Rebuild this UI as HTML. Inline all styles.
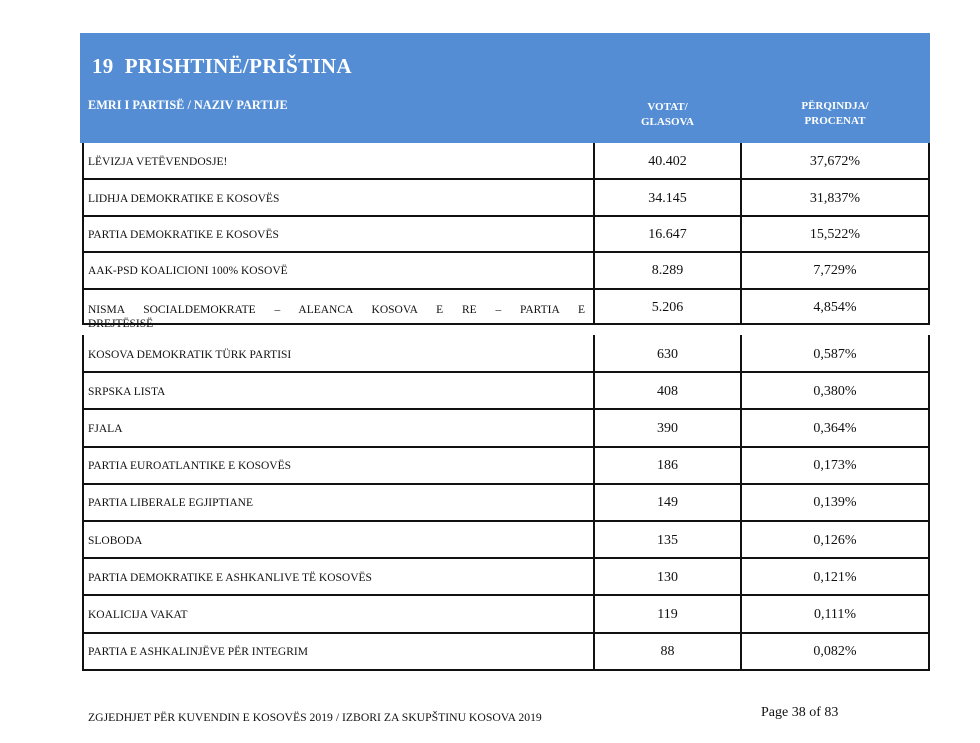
<!DOCTYPE html>
<html><head><meta charset="utf-8">
<style>
body{margin:0;width:980px;height:743px;background:#fff;position:relative;overflow:hidden;font-family:"Liberation Serif",serif;}
.abs{position:absolute;}
#hdr{left:80px;top:33px;width:850px;height:110px;background:#548dd4;}
.h{color:#fff;font-weight:bold;position:absolute;}
.hl{background:#111;position:absolute;}
.name{position:absolute;left:88px;font-size:11.5px;color:#111;line-height:18px;}
.num{position:absolute;font-size:14px;color:#111;text-align:center;line-height:18px;}
</style></head><body>
<div id="hdr" class="abs"></div>
<div class="h" style="left:92px;top:54px;font-size:21px;letter-spacing:0.3px;">19&nbsp; PRISHTINË/PRIŠTINA</div>
<div class="h" style="left:88px;top:98px;font-size:12.3px;">EMRI I PARTISË / NAZIV PARTIJE</div>
<div class="h" style="left:594px;top:100px;width:147px;text-align:center;font-size:11px;line-height:15px;">VOTAT/<br>GLASOVA</div>
<div class="h" style="left:741px;top:99px;width:188px;text-align:center;font-size:11px;line-height:15px;">PËRQINDJA/<br>PROCENAT</div>
<div id="tbl"></div>
<div class="abs" style="left:88px;top:711px;font-size:11.7px;color:#111;">ZGJEDHJET PËR KUVENDIN E KOSOVËS 2019 / IZBORI ZA SKUPŠTINU KOSOVA 2019</div>
<div class="abs" style="left:761px;top:705px;font-size:14px;color:#111;">Page 38 of 83</div>
<script>
const parties=["LËVIZJA VETËVENDOSJE!","LIDHJA DEMOKRATIKE E KOSOVËS","PARTIA DEMOKRATIKE E KOSOVËS","AAK-PSD KOALICIONI 100% KOSOVË","NISMA SOCIALDEMOKRATE – ALEANCA KOSOVA E RE – PARTIA E DREJTËSISË","KOSOVA DEMOKRATIK TÜRK PARTISI","SRPSKA LISTA","FJALA","PARTIA EUROATLANTIKE E KOSOVËS","PARTIA LIBERALE EGJIPTIANE","SLOBODA","PARTIA DEMOKRATIKE E ASHKANLIVE TË KOSOVËS","KOALICIJA VAKAT","PARTIA E ASHKALINJËVE PËR INTEGRIM"];
const votes=["40.402","34.145","16.647","8.289","5.206","630","408","390","186","149","135","130","119","88"];
const percents=["37,672%","31,837%","15,522%","7,729%","4,854%","0,587%","0,380%","0,364%","0,173%","0,139%","0,126%","0,121%","0,111%","0,082%"];
const tbl=document.getElementById('tbl');
function line(x,y,w,h){const d=document.createElement('div');d.className='hl';d.style.cssText=`left:${x}px;top:${y}px;width:${w}px;height:${h}px`;


tbl.appendChild(d);}
function rowTop(i){return i<5?143+i*36.4:335+(i-5)*37.2;}
function rowH(i){return i<5?36.4:37.2;}
const segs=[[143,324],[335,670]];
segs.forEach(s=>{[82,593,740,928].forEach(x=>line(x,s[0],2,s[1]-s[0]+1));});
for(let i=0;i<parties.length;i++){
  const t=rowTop(i),h=rowH(i);
  if(i===4) line(82,323,848,2);
  else line(82,Math.round(t+h)-1,848,2);
  const r=document.createElement('div');
  
  
  const n=document.createElement('div');n.className='name';
  
  
  n.textContent=parties[i];
  if(i===4){n.style.top=(t+14)+'px';n.style.width='497px';n.style.textAlign='justify';n.style.textAlignLast='justify';n.style.lineHeight='14px';n.textContent='NISMA SOCIALDEMOKRATE – ALEANCA KOSOVA E RE – PARTIA E';
    const n2=document.createElement('div');n2.className='name';n2.style.lineHeight='14px';n2.style.top=(t+28)+'px';n2.textContent='DREJTËSISË';
    
    
    r.appendChild(n2);}
  else n.style.top=(t+h/2-8)+'px';
  r.appendChild(n);
  const v=document.createElement('div');v.className='num';v.style.cssText=`left:594px;width:147px;top:${t+h/2-8}px`;v.textContent=votes[i];
  
  
  const p=document.createElement('div');p.className='num';p.style.cssText=`left:741px;width:188px;top:${t+h/2-8}px`;p.textContent=percents[i];
  
  
  r.appendChild(v);r.appendChild(p);tbl.appendChild(r);
}
</script>
</body></html>
